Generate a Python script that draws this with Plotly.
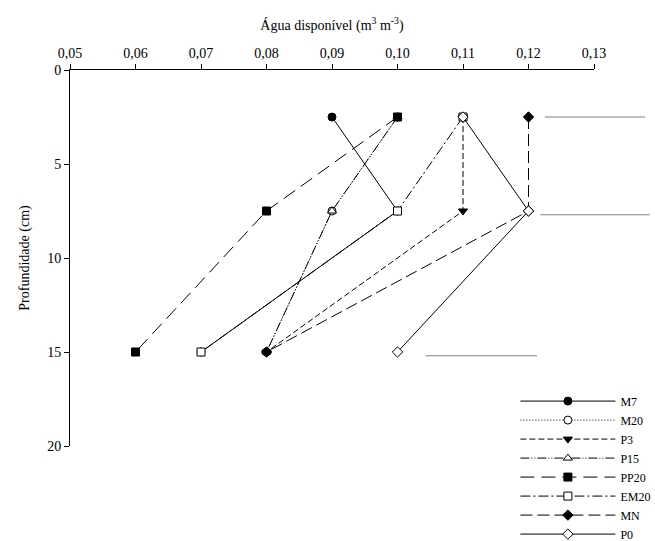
import plotly.graph_objects as go

depth = [2.5, 7.5, 15]
series_names = ["M7", "M20", "P3", "P15", "PP20", "EM20", "MN", "P0"]
M7 = [0.09, 0.10, 0.07]
M20 = [0.10, 0.09, 0.08]
P3 = [0.11, 0.11, 0.08]
P15 = [0.10, 0.09, 0.08]
PP20 = [0.10, 0.08, 0.06]
EM20 = [0.11, 0.10, 0.07]
MN = [0.12, 0.12, 0.08]
P0 = [0.11, 0.12, 0.10]
values = [M7, M20, P3, P15, PP20, EM20, MN, P0]

x_ticks = [0.05, 0.06, 0.07, 0.08, 0.09, 0.10, 0.11, 0.12, 0.13]
y_ticks = [0, 5, 10, 15, 20]

styles = {
    "M7": dict(dash="solid", symbol="circle", fill="black"),
    "M20": dict(dash="1px,2px", symbol="circle", fill="white"),
    "P3": dict(dash="6px,3px", symbol="triangle-down", fill="black"),
    "P15": dict(dash="9px,2px,1px,2px,1px,2px", symbol="triangle-up", fill="white"),
    "PP20": dict(dash="14px,7px", symbol="square", fill="black"),
    "EM20": dict(dash="10px,3px,2px,3px", symbol="square", fill="white"),
    "MN": dict(dash="12px,5px", symbol="diamond", fill="black"),
    "P0": dict(dash="solid", symbol="diamond", fill="white"),
}

fig = go.Figure()
for name, vals in zip(series_names, values):
    st = styles[name]
    fig.add_trace(go.Scatter(
        x=vals, y=depth, name=name, mode="lines+markers",
        line=dict(color="black", width=1, dash=st["dash"]),
        marker=dict(symbol=st["symbol"], size=8, color=st["fill"],
                    line=dict(color="black", width=1)),
        cliponaxis=False,
    ))

# grey reference segments at the right of the plot
x0, x1 = 0.05, 0.13
def px(v):
    return (v - x0) / (x1 - x0)
segments = [(0.1225, 0.1378, 2.5), (0.1218, 0.1385, 7.7), (0.1043, 0.1213, 15.2)]
for a, b, d in segments:
    fig.add_shape(type="line", xref="paper", yref="y", x0=px(a), x1=px(b), y0=d, y1=d,
                  line=dict(color="#808080", width=1.2))

fam = "Liberation Serif, Times New Roman, serif"
font = dict(family=fam, size=14, color="black")

fig.update_layout(
    width=655, height=541,
    margin=dict(l=70, r=61, t=70, b=95, autoexpand=False),
    paper_bgcolor="white", plot_bgcolor="white",
    separators=",.",
    font=font,
    showlegend=True,
    legend=dict(x=0.85, y=0.158, xanchor="left", yanchor="top",
                bgcolor="rgba(0,0,0,0)", font=dict(size=12, family=fam),
                tracegroupgap=0, itemwidth=95),
    xaxis=dict(
        side="top", range=[0.05, 0.13], tickvals=x_ticks, tickformat=".2f",
        ticks="outside", ticklen=5, tickcolor="black", showline=True, linecolor="black",
        linewidth=1, showgrid=False, zeroline=False,
        title=dict(text="Água disponível (m<sup>3</sup> m<sup>-3</sup>)", standoff=12,
                   font=dict(size=14)),
    ),
    yaxis=dict(
        range=[20, 0], tickvals=y_ticks, ticks="outside", ticklen=5, tickcolor="black",
        showline=True, linecolor="black", linewidth=1, showgrid=False, zeroline=False,
        title=dict(text="Profundidade (cm)", standoff=14, font=dict(size=14)),
    ),
)

fig.write_html("out.html")
